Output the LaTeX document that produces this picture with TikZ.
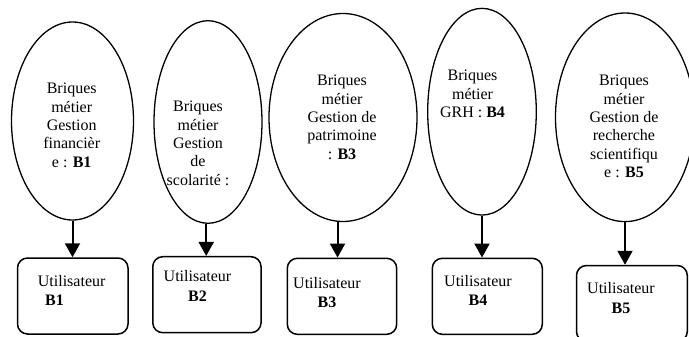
\documentclass[tikz,border=0pt]{standalone}
\usepackage{fontspec}
\setmainfont{Liberation Serif}
\usetikzlibrary{shapes.geometric,arrows.meta}

\begin{document}
\begin{tikzpicture}[line cap=round,line join=round,x=1pt,y=-1pt,
	brique/.style={draw,ellipse,line width=1.3pt,inner sep=0pt},
	usager/.style={draw,rounded corners=10pt,line width=1.5pt,inner sep=0pt},
	etiq/.style={inner sep=0pt,anchor=north,align=center,font=\fontsize{16}{18.4}\selectfont},
	etiqu/.style={inner sep=0pt,anchor=north,align=center,font=\fontsize{16}{19.3}\selectfont},
	fleche/.style={line width=2pt,line cap=butt,-{Triangle[width=15pt,length=14pt]}}]
		\useasboundingbox (0,0) rectangle (689,337);
		\node[brique,minimum width=122pt,minimum height=198pt] (e1) at (72.5,121) {};
		\node[brique,minimum width=108pt,minimum height=202.6pt] (e2) at (208,122) {};
		\node[brique,minimum width=148pt,minimum height=208pt] (e3) at (343,117.5) {};
		\node[brique,minimum width=108.6pt,minimum height=206.7pt] (e4) at (482,111.7) {};
		\node[brique,minimum width=139pt,minimum height=208.6pt] (e5) at (625,117.3) {};
		\node[etiq] (t1) at (71.7,83) {Briques\\métier\\Gestion\\financièr\\e : \textbf{B1}};
		\node[etiq] (t2) at (198,101) {Briques\\métier\\Gestion\\de\\scolarité :};
		\node[etiq] (t3) at (342,75) {Briques\\métier\\Gestion de\\patrimoine\\: \textbf{B3}};
		\node[etiq] (t4) at (472.5,70) {Briques\\métier\\GRH : \textbf{B4}};
		\node[etiq] (t5) at (624,75) {Briques\\métier\\Gestion de\\recherche\\scientifiqu\\e : \textbf{B5}};
		\node[usager,minimum width=110.5pt,minimum height=76pt] (r1) at (72.75,296) {};
		\node[usager,minimum width=108.3pt,minimum height=76pt] (r2) at (206.9,294.7) {};
		\node[usager,minimum width=109.4pt,minimum height=76pt] (r3) at (342,296.3) {};
		\node[usager,minimum width=110pt,minimum height=76pt] (r4) at (487.3,296.3) {};
		\node[usager,minimum width=110.8pt,minimum height=76pt] (r5) at (631.9,303.5) {};
		\node[etiqu,anchor=north west,align=left] (u1) at (37.7,275) {Utilisateur\\\hspace*{7.3pt}\textbf{B1}};
		\node[etiqu] (u2) at (197.5,270.6) {Utilisateur\\\textbf{B2}};
		\node[etiqu] (u3) at (327,277) {Utilisateur\\\textbf{B3}};
		\node[etiqu] (u4) at (478,275) {Utilisateur\\\textbf{B4}};
		\node[etiqu] (u5) at (621,282.5) {Utilisateur\\\textbf{B5}};
		\draw[fleche] (e1.south) -- (e1.south |- r1.north);
		\draw[fleche] (e2.-91.7) -- (e2.-91.7 |- r2.north);
		\draw[fleche] (e3.-93.5) -- (e3.-93.5 |- r3.north);
		\draw[fleche] (e4.south) -- (e4.south |- r4.north);
		\draw[fleche] (e5.south) -- (e5.south |- r5.north);
\end{tikzpicture}
\end{document}
